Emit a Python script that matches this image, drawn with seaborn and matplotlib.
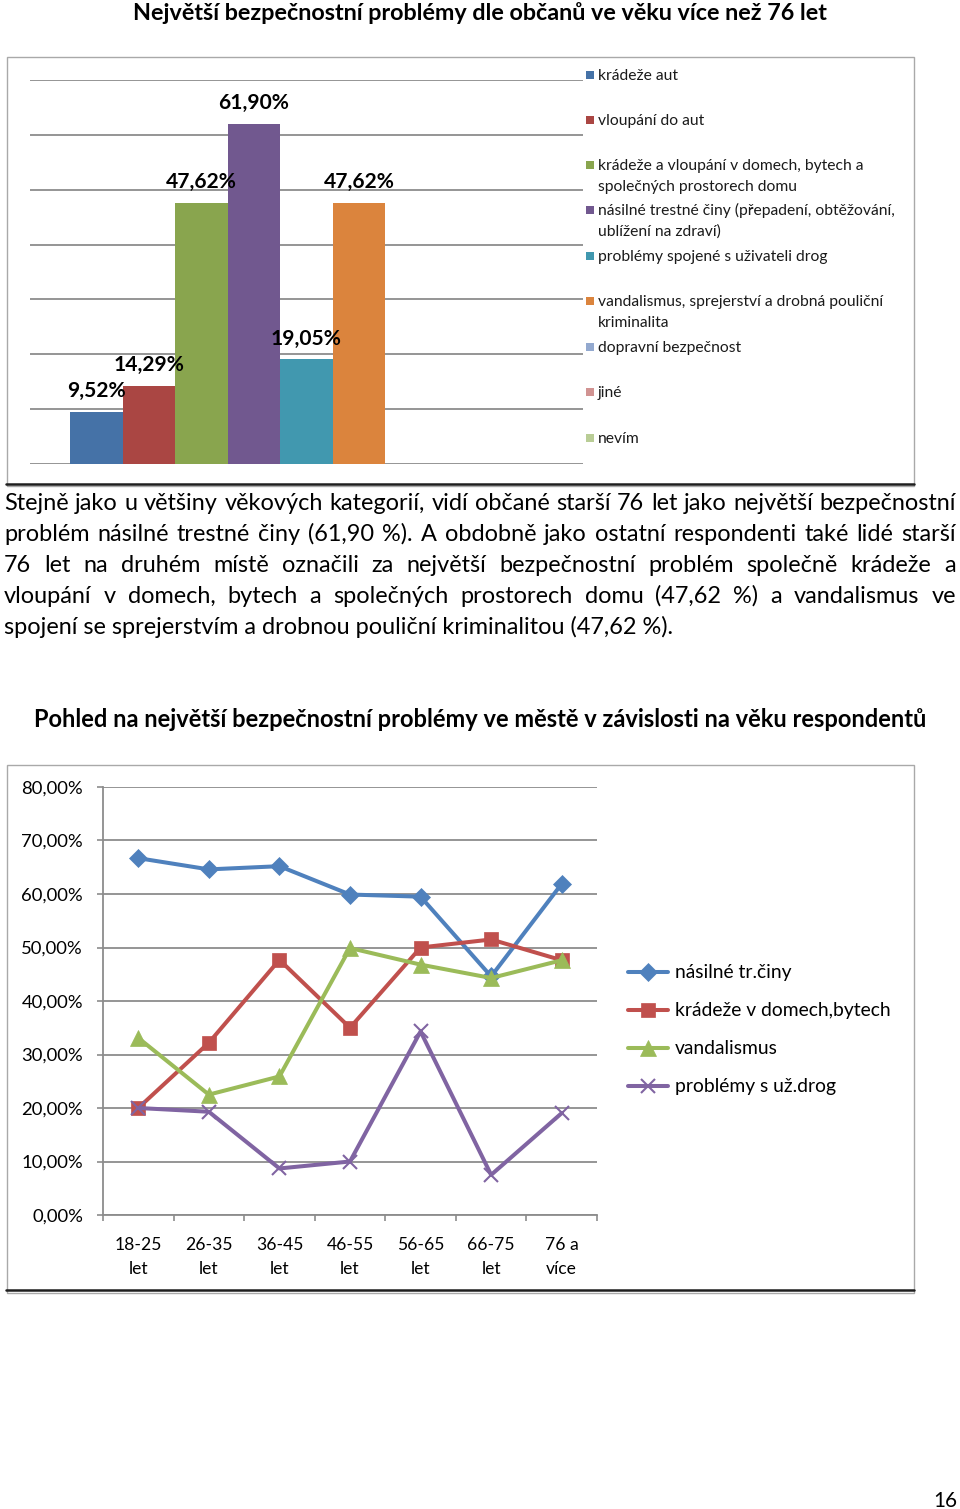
import textwrap
import numpy as np
import pandas as pd
import matplotlib
matplotlib.use("Agg")
import matplotlib.pyplot as plt
import seaborn as sns
from matplotlib.patches import Rectangle
from matplotlib.lines import Line2D
from matplotlib.ticker import FuncFormatter

# ---------------- data ----------------
title_top = "Největší bezpečnostní problémy dle občanů ve věku více než 76 let"
problems = [
    "krádeže aut",
    "vloupání do aut",
    "krádeže a vloupání v domech, bytech a společných prostorech domu",
    "násilné trestné činy (přepadení, obtěžování, ublížení na zdraví)",
    "problémy spojené s uživateli drog",
    "vandalismus, sprejerství a drobná pouliční kriminalita",
    "dopravní bezpečnost",
    "jiné",
    "nevím",
]
shares_76 = [9.52, 14.29, 47.62, 61.90, 19.05, 47.62, 0.0, 0.0, 0.0]
bar_colors = ["#4572A7", "#AA4643", "#89A54E", "#71588F", "#4198AF",
              "#DB843D", "#93A9CF", "#D19392", "#B9CD96"]

paragraph = [
    "Stejně jako u většiny věkových kategorií, vidí občané starší 76 let jako největší bezpečnostní",
    "problém násilné trestné činy (61,90 %). A obdobně jako ostatní respondenti také lidé starší",
    "76 let na druhém místě označili za největší bezpečnostní problém společně krádeže a",
    "vloupání v domech, bytech a společných prostorech domu (47,62 %) a vandalismus ve",
    "spojení se sprejerstvím a drobnou pouliční kriminalitou (47,62 %).",
]

title_line = "Pohled na největší bezpečnostní problémy ve městě v závislosti na věku respondentů"
age_groups = ["18-25\nlet", "26-35\nlet", "36-45\nlet", "46-55\nlet",
              "56-65\nlet", "66-75\nlet", "76 a\nvíce"]
series_names = ["násilné tr.činy", "krádeže v domech,bytech", "vandalismus",
                "problémy s už.drog"]
violent = [66.7, 64.6, 65.2, 59.9, 59.5, 44.6, 61.90]
burglary = [20.0, 32.2, 47.7, 35.0, 50.0, 51.5, 47.62]
vandalism = [33.1, 22.5, 25.9, 49.9, 46.8, 44.3, 47.62]
drugs = [20.0, 19.3, 8.7, 10.0, 34.3, 7.5, 19.05]
line_colors = ["#4F81BD", "#C0504D", "#9BBB59", "#8064A2"]
y_ticks = [0, 10, 20, 30, 40, 50, 60, 70, 80]
page_number = "16"

# ---------------- setup ----------------
sns.set_style("white")
plt.rcParams["font.family"] = ["Lato", "DejaVu Sans"]

W, H = 960, 1509
fig = plt.figure(figsize=(W / 100, H / 100), dpi=100)
renderer = fig.canvas.get_renderer()


def rect(x0, y0, x1, y1):
    return [x0 / W, 1 - y1 / H, (x1 - x0) / W, (y1 - y0) / H]


def fx(x):
    return x / W


def fy(y):
    return 1 - y / H


def width_px(s, size, weight="normal"):
    t = fig.text(0, 0, s, fontsize=size, fontweight=weight)
    w = t.get_window_extent(renderer=renderer).width
    t.remove()
    return w


def fit_size(s, target, weight="normal"):
    return 20 * target / width_px(s, 20, weight)


TXT = "#000000"
GRID = "#8c8c8c"

# ---------------- titles ----------------
s1 = fit_size(title_top, 696, "bold")
fig.text(fx(480), fy(20), title_top, fontsize=s1, fontweight="bold",
         ha="center", va="baseline", color=TXT)
s2 = fit_size(title_line, 890, "bold")
fig.text(fx(480), fy(727), title_line, fontsize=s2, fontweight="bold",
         ha="center", va="baseline", color=TXT)

# ---------------- paragraph (justified) ----------------
psize = fit_size(paragraph[-1], 671)
for i, line in enumerate(paragraph):
    base = 510 + 31 * i
    if i == len(paragraph) - 1:
        fig.text(fx(4), fy(base), line, fontsize=psize, ha="left",
                 va="baseline", color=TXT)
        continue
    words = line.split(" ")
    ws = [width_px(w, psize) for w in words]
    gap = (952 - sum(ws)) / (len(words) - 1)
    x = 4
    for w, wd in zip(words, ws):
        fig.text(fx(x), fy(base), w, fontsize=psize, ha="left",
                 va="baseline", color=TXT)
        x += wd + gap

# ---------------- frames ----------------
for (x0, y0, x1, y1, dark) in [(7, 57, 914, 486, 484), (7, 765, 914, 1293, 1290)]:
    fig.add_artist(Rectangle((fx(x0), fy(y1)), (x1 - x0) / W, (y1 - y0) / H,
                             transform=fig.transFigure, fill=False,
                             ec="#a9a9a9", lw=1.0))
    fig.add_artist(Line2D([fx(6), fx(914)], [fy(dark)] * 2, color="#1e1e1e",
                          lw=1.8, transform=fig.transFigure))

# ---------------- bar chart ----------------
axb = fig.add_axes(rect(30, 80, 583, 464))
df_bar = pd.DataFrame({"skupina": ["76+"] * len(problems),
                       "problem": problems, "podil": shares_76})
sns.barplot(data=df_bar, x="skupina", y="podil", hue="problem",
            hue_order=problems, palette=bar_colors, width=0.855,
            saturation=1, legend=False, ax=axb, linewidth=0, gap=0)
axb.set_xlim(-0.5, 0.5)
axb.set_ylim(0, 70)
axb.set_yticks(np.arange(0, 71, 10))
axb.yaxis.grid(True, color=GRID, lw=1.3)
axb.xaxis.grid(False)
axb.set_axisbelow(True)
axb.tick_params(left=False, bottom=False, labelleft=False, labelbottom=False)
for sp in axb.spines.values():
    sp.set_visible(False)
axb.set_xlabel("")
axb.set_ylabel("")
axb.patch.set_alpha(0)

lab_size = fit_size("61,90%", 71, "bold")
for p in axb.patches:
    h = p.get_height()
    if h > 0:
        lbl = f"{h:.2f}".replace(".", ",") + "%"
        axb.annotate(lbl, (p.get_x() + p.get_width() / 2, h),
                     xytext=(0, 15 * 0.72), textcoords="offset points",
                     ha="center", va="baseline", fontweight="bold",
                     fontsize=lab_size, color=TXT, annotation_clip=False)

# manual legend (uniform slots like the original)
leg_size = fit_size("vandalismus, sprejerství a drobná pouliční", 286)
slot_y = [75, 120, 165, 210, 256, 301, 347, 392, 438]
for name, col, yc in zip(problems, bar_colors, slot_y):
    fig.add_artist(Rectangle((fx(586), fy(yc + 4)), 8 / W, 8 / H,
                             transform=fig.transFigure, fc=col, ec="none"))
    for j, part in enumerate(textwrap.wrap(name, 44)):
        fig.text(fx(598), fy(yc + 5 + 21 * j), part, fontsize=leg_size,
                 ha="left", va="baseline", color="#1a1a1a")

# ---------------- line chart ----------------
axl = fig.add_axes(rect(103, 787, 597, 1215))
series = [violent, burglary, vandalism, drugs]
markers = ["D", "s", "^", "x"]
msizes = [9.5, 10.5, 11, 10]
for vals, col, mk, ms in zip(series, line_colors, markers, msizes):
    sns.pointplot(x=age_groups, y=vals, color=col, markers=mk,
                  linestyles="-", errorbar=None, ax=axl, markersize=ms,
                  linewidth=2.9, markeredgewidth=1.5 if mk == "x" else 0.5)
axl.set_xlim(-0.5, len(age_groups) - 0.5)
axl.set_ylim(0, 80)
axl.set_yticks(y_ticks)
axl.yaxis.set_major_formatter(FuncFormatter(
    lambda v, _: f"{v:.2f}".replace(".", ",") + "%"))
axl.yaxis.grid(True, color=GRID, lw=1.3)
axl.xaxis.grid(False)
axl.set_axisbelow(True)
for k in ["top", "right"]:
    axl.spines[k].set_visible(False)
for k in ["left", "bottom"]:
    axl.spines[k].set_visible(True)
    axl.spines[k].set_color(GRID)
    axl.spines[k].set_linewidth(1.3)
axl.set_xlabel("")
axl.set_ylabel("")
axl.patch.set_alpha(0)

ytick_size = fit_size("80,00%", 62)
xtick_size = fit_size("18-25", 47)
axl.tick_params(axis="y", which="major", length=6 * 0.72, width=1.2,
                color=GRID, direction="out", pad=10, labelsize=ytick_size,
                labelcolor=TXT, left=True)
axl.set_xticks(np.arange(-0.5, len(age_groups), 1), minor=True)
axl.tick_params(axis="x", which="minor", length=6 * 0.72, width=1.2,
                color=GRID, direction="out", bottom=True)
axl.tick_params(axis="x", which="major", length=0, pad=16,
                labelsize=xtick_size, labelcolor=TXT)
for t in axl.get_xticklabels():
    t.set_linespacing(1.6)

# manual legend for lines
lleg_size = fit_size("krádeže v domech,bytech", 217)
for name, col, mk, ms, yc in zip(series_names, line_colors, markers, msizes,
                                  [972, 1010, 1048, 1086]):
    fig.add_artist(Line2D([fx(628), fx(648), fx(668)], [fy(yc)] * 3,
                          color=col, lw=2.9, marker=mk, markersize=ms,
                          markevery=[1], markeredgewidth=1.5 if mk == "x" else 0.5,
                          transform=fig.transFigure))
    fig.text(fx(675), fy(yc + 6), name, fontsize=lleg_size, ha="left",
             va="baseline", color=TXT)

# page number
pn = fit_size(page_number, 24)
fig.text(fx(945), fy(1507), page_number, fontsize=pn, ha="center",
         va="baseline", color=TXT)

fig.savefig("out.png", dpi=100)
